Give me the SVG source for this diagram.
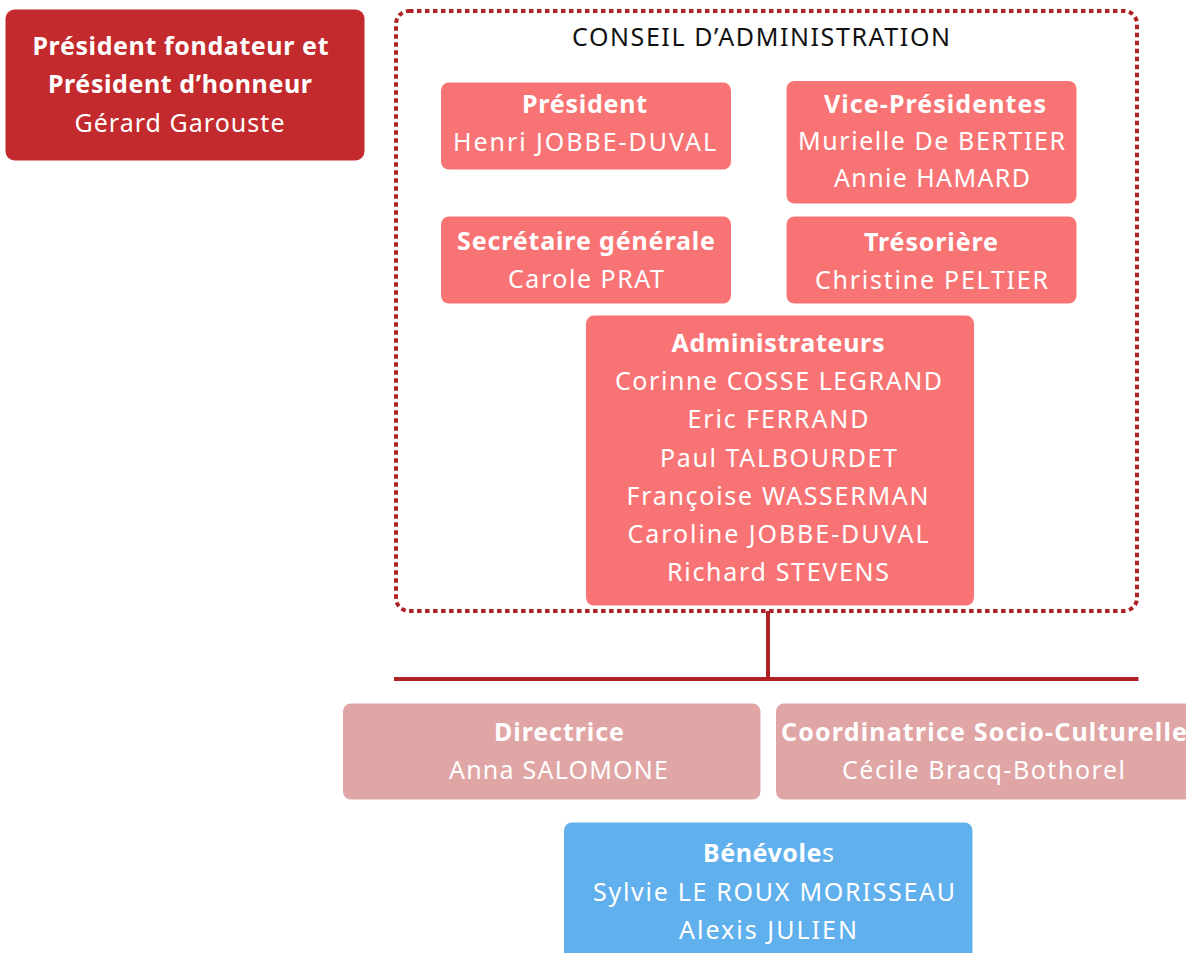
<svg xmlns="http://www.w3.org/2000/svg" width="1186" height="953" viewBox="0 0 1186 953">
<style>
text{font-family:"Noto Sans","Open Sans","DejaVu Sans",sans-serif;font-size:25px;text-anchor:middle;fill:#ffffff}
.b{font-weight:700}
.r{font-weight:400}
.title{fill:#111111;font-weight:400}
.dark{fill:#c32a2d}
.pink{fill:#f87474}
.rose{fill:#e0a5a5}
.blue{fill:#61b0ee}
.conn{stroke:#b02226;stroke-width:4;fill:none}
</style>
<rect width="1186" height="953" fill="#ffffff"/>

<g id="president-fondateur">
<rect class="dark" x="5.5" y="9.5" width="359" height="151" rx="9"/>
<text class="b" x="180.5" y="55" textLength="296">Président fondateur et</text>
<text class="b" x="180" y="93" textLength="264">Président d’honneur</text>
<text class="r" x="179.5" y="132" textLength="210">Gérard Garouste</text>
</g>

<g id="conseil">
<rect x="396" y="11" width="741" height="600" rx="13" fill="none" stroke="#b02226" stroke-width="4" stroke-dasharray="4.5 3.5"/>
<text class="title" x="761" y="46" textLength="378">CONSEIL D’ADMINISTRATION</text>
</g>

<g id="president">
<rect class="pink" x="441" y="82.5" width="290" height="87" rx="8"/>
<text class="b" x="584.5" y="113" textLength="125">Président</text>
<text class="r" x="584.5" y="151" textLength="263">Henri JOBBE-DUVAL</text>
</g>

<g id="vice-presidentes">
<rect class="pink" x="786.5" y="81" width="290" height="122.5" rx="8"/>
<text class="b" x="935" y="113" textLength="222">Vice-Présidentes</text>
<text class="r" x="931.5" y="150" textLength="267">Murielle De BERTIER</text>
<text class="r" x="932" y="187" textLength="196">Annie HAMARD</text>
</g>

<g id="secretaire">
<rect class="pink" x="441" y="216.5" width="290" height="87" rx="8"/>
<text class="b" x="586" y="250" textLength="258">Secrétaire générale</text>
<text class="r" x="586" y="288" textLength="156">Carole PRAT</text>
</g>

<g id="tresoriere">
<rect class="pink" x="786.5" y="216.5" width="290" height="87" rx="8"/>
<text class="b" x="931" y="250.5" textLength="134">Trésorière</text>
<text class="r" x="931.5" y="288.5" textLength="233">Christine PELTIER</text>
</g>

<g id="administrateurs">
<rect class="pink" x="586" y="315.5" width="388" height="290" rx="8"/>
<text class="b" x="778" y="352" textLength="213">Administrateurs</text>
<text class="r" x="778.5" y="390" textLength="327">Corinne COSSE LEGRAND</text>
<text class="r" x="778" y="428" textLength="181">Eric FERRAND</text>
<text class="r" x="778.5" y="467" textLength="237">Paul TALBOURDET</text>
<text class="r" x="777.5" y="505" textLength="302">Françoise WASSERMAN</text>
<text class="r" x="778" y="543" textLength="301">Caroline JOBBE-DUVAL</text>
<text class="r" x="778" y="581" textLength="222">Richard STEVENS</text>
</g>

<g id="connectors">
<line class="conn" x1="768" y1="611" x2="768" y2="679"/>
<line class="conn" x1="394" y1="679" x2="1138.5" y2="679"/>
</g>

<g id="directrice">
<rect class="rose" x="343" y="703.5" width="417.5" height="96" rx="8"/>
<text class="b" x="559" y="741" textLength="130">Directrice</text>
<text class="r" x="558.5" y="779" textLength="219">Anna SALOMONE</text>
</g>

<g id="coordinatrice">
<rect class="rose" x="776" y="703.5" width="416" height="96" rx="8"/>
<text class="b" x="984" y="741" textLength="406">Coordinatrice Socio-Culturelle</text>
<text class="r" x="983.5" y="779" textLength="283">Cécile Bracq-Bothorel</text>
</g>

<g id="benevoles">
<rect class="blue" x="564" y="822.5" width="408.5" height="145" rx="8"/>
<text x="768.5" y="862" textLength="131"><tspan class="b">Bénévole</tspan><tspan class="r">s</tspan></text>
<text class="r" x="774" y="900.5" textLength="362">Sylvie LE ROUX MORISSEAU</text>
<text class="r" x="768" y="938.5" textLength="178">Alexis JULIEN</text>
</g>
</svg>
